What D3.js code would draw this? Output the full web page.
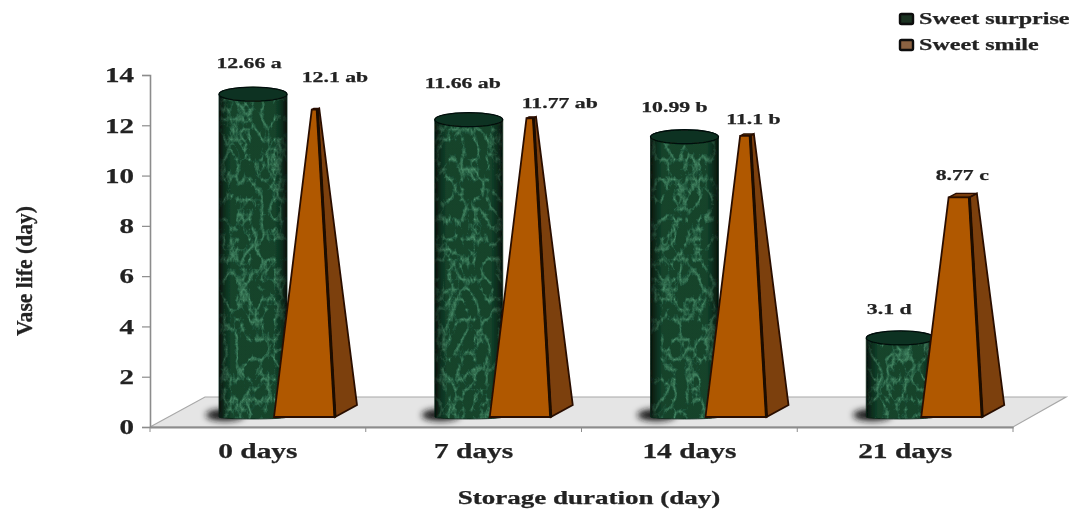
<!DOCTYPE html>
<html>
<head>
<meta charset="utf-8">
<script src="https://cdn.jsdelivr.net/npm/d3@7"></script>
<style>
  html, body { margin: 0; padding: 0; background: #fff; }
  text { font-family: "Liberation Serif", serif; font-weight: bold; fill: #222; stroke: #222; stroke-width: 0.25px; }
</style>
</head>
<body>
<div id="container"></div>
<script>
const categories = ["0 days", "7 days", "14 days", "21 days"];
const seriesNames = ["Sweet surprise", "Sweet smile"];
const surprise = [12.66, 11.66, 10.99, 3.1];
const smile = [12.1, 11.77, 11.1, 8.77];
const surpriseLabels = ["12.66 a", "11.66 ab", "10.99 b", "3.1 d"];
const smileLabels = ["12.1 ab", "11.77 ab", "11.1 b", "8.77 c"];
const yTicks = [0, 2, 4, 6, 8, 10, 12, 14];

const width = 1076, height = 512;
const svgRoot = d3.select("#container").append("svg")
  .attr("width", width).attr("height", height)
  .style("display", "block");
const defs = svgRoot.append("defs");

// the reference is a blurry bitmap, so everything goes through a slight blur
const soft = defs.append("filter").attr("id", "soft")
  .attr("filterUnits", "userSpaceOnUse")
  .attr("x", 0).attr("y", 0).attr("width", width).attr("height", height);
soft.append("feGaussianBlur").attr("stdDeviation", 0.45);
const svg = svgRoot.append("g").attr("filter", "url(#soft)");

// --- Scales ---
const x = d3.scaleBand().domain(categories).range([150, 1013]);
const y = d3.scaleLinear().domain([0, 14]).range([427, 75]);
// bars stand on the floor, a bit above the axis line
const yBar = d3.scaleLinear().domain([0, 14]).range([417, 60]);
// left edge of each series inside a band
const xSeries = d3.scalePoint().domain(seriesNames).range([69, 124]);

const cylW = 68, cylRy = 7;
const pyrW = 61, pyrDepth = 22, pyrRise = 12;
const pyrApex = 13.3;   // every pyramid tapers towards this height

// stretch text sideways, the picture was squeezed vertically
function widen(sel, factor) {
  sel.each(function () {
    const len = this.getComputedTextLength();
    d3.select(this)
      .attr("textLength", len * factor)
      .attr("lengthAdjust", "spacingAndGlyphs");
  });
}

// --- Marble texture: light veins laid over a flat dark green ---
const marble = defs.append("filter").attr("id", "marble")
  .attr("x", 0).attr("y", 0).attr("width", 1).attr("height", 1)
  .attr("color-interpolation-filters", "sRGB");
marble.append("feTurbulence").attr("type", "turbulence")
  .attr("baseFrequency", "0.08 0.05").attr("numOctaves", 5).attr("seed", 7);
marble.append("feColorMatrix").attr("type", "matrix")
  .attr("values", "0 0 0 0 0.36  0 0 0 0 0.66  0 0 0 0 0.5  0 0 0 -2.6 0.85");
marble.append("feGaussianBlur").attr("stdDeviation", 0.5);

const shade = defs.append("linearGradient").attr("id", "cylShade");
[[0, "#000", 0.8], [0.07, "#000", 0.4], [0.18, "#000", 0.05], [0.82, "#000", 0.05], [0.93, "#000", 0.4], [1, "#000", 0.8]]
  .forEach(s => shade.append("stop").attr("offset", s[0])
    .attr("stop-color", s[1]).attr("stop-opacity", s[2]));

const shadowBlur = defs.append("filter").attr("id", "shadow")
  .attr("x", "-50%").attr("y", "-100%").attr("width", "200%").attr("height", "300%");
shadowBlur.append("feGaussianBlur").attr("stdDeviation", 3);

// --- Floor ---
svg.append("path")
  .attr("d", d3.line()([[150, 427], [205, 397], [1066, 397], [1013, 427]]) + "Z")
  .attr("fill", "#e5e5e5").attr("stroke", "#a8a8a8").attr("stroke-width", 1.2);

// --- Axes ---
const yAxis = svg.append("g").attr("transform", "translate(150,0)")
  .call(d3.axisLeft(y).tickValues(yTicks).tickSize(8).tickPadding(8));
yAxis.selectAll("text").style("font-size", "21px");
widen(yAxis.selectAll("text"), 1.38);
yAxis.selectAll("line").attr("stroke", "#8c8c8c").attr("stroke-width", 1.2);
yAxis.select(".domain").attr("stroke", "#8c8c8c").attr("stroke-width", 1.6);

const xAxis = svg.append("g").attr("transform", "translate(0,427)")
  .call(d3.axisBottom(x).tickSize(0).tickPadding(16));
xAxis.selectAll("text").style("font-size", "21px");
widen(xAxis.selectAll("text"), 1.4);
xAxis.select(".domain").attr("stroke", "#8c8c8c").attr("stroke-width", 1.8);
xAxis.selectAll(".boundary").data(x.domain().map(d => x(d)).concat(x.range()[1])).join("line")
  .attr("x1", d => d).attr("x2", d => d).attr("y1", 0).attr("y2", 5)
  .attr("stroke", "#8c8c8c");

// --- Axis titles ---
svg.append("text")
  .attr("transform", "translate(32,271) rotate(-90)")
  .attr("text-anchor", "middle")
  .style("font-size", "23px")
  .attr("textLength", 130).attr("lengthAdjust", "spacingAndGlyphs")
  .text("Vase life (day)");
widen(svg.append("text")
  .attr("x", 589).attr("y", 504)
  .attr("text-anchor", "middle")
  .style("font-size", "18px")
  .text("Storage duration (day)"), 1.5);

// --- Cylinders ---
const cyl = svg.append("g").selectAll("g").data(categories).join("g");
cyl.each(function (cat, i) {
  const g = d3.select(this);
  const left = x(cat) + xSeries(seriesNames[0]);
  const right = left + cylW;
  const top = yBar(surprise[i]), bottom = yBar(0);
  const rx = cylW / 2;
  const outline = `M${left},${top}L${left},${bottom}A${rx},2 0 0 0 ${right},${bottom}L${right},${top}A${rx},${cylRy} 0 0 0 ${left},${top}Z`;

  g.append("ellipse")
    .attr("cx", left + 6).attr("cy", bottom - 2)
    .attr("rx", 19).attr("ry", 6)
    .attr("fill", "#141414").attr("filter", "url(#shadow)");

  const clipId = `cyl-clip-${i}`;
  defs.append("clipPath").attr("id", clipId).append("path").attr("d", outline);
  const body = g.append("g").attr("clip-path", `url(#${clipId})`);
  const bodyRect = () => body.append("rect")
    .attr("x", left).attr("y", top - cylRy)
    .attr("width", cylW).attr("height", bottom - top + 2 * cylRy);
  bodyRect().attr("fill", "#14472e");
  bodyRect().attr("filter", "url(#marble)");
  bodyRect().attr("fill", "url(#cylShade)");

  g.append("path").attr("d", outline).attr("fill", "none")
    .attr("stroke", "#0a2216").attr("stroke-width", 0.8);
  g.append("ellipse")
    .attr("cx", left + rx).attr("cy", top)
    .attr("rx", rx).attr("ry", cylRy)
    .attr("fill", "#0d3020").attr("stroke", "#04100a").attr("stroke-width", 1.3);
});

// --- Pyramids ---
const pyr = svg.append("g").selectAll("g").data(categories).join("g");
pyr.each(function (cat, i) {
  const g = d3.select(this);
  const fl = x(cat) + xSeries(seriesNames[1]);
  const fr = fl + pyrW;
  const br = fr + pyrDepth;
  const bottom = yBar(0);
  const top = yBar(smile[i]);
  const k = smile[i] / pyrApex;           // how far up towards the apex
  const cx = (fl + br) / 2;
  const lerp = (a, b) => a + (b - a) * k;
  const tl = lerp(fl, cx), tr = lerp(fr, cx), tb = lerp(br, cx);
  const rise = pyrRise * (1 - k);
  const stroke = "#2a1003";
  const frontY = top + rise;
  g.append("path")
    .attr("d", d3.line()([[tl, frontY], [tr, frontY], [tb, top], [tb - (tr - tl), top]]) + "Z")
    .attr("fill", "#7a3d0c").attr("stroke", stroke).attr("stroke-width", 1.4);
  g.append("path")
    .attr("d", d3.line()([[tr, frontY], [tb, top], [br, bottom - pyrRise], [fr, bottom]]) + "Z")
    .attr("fill", "#7c3f0b").attr("stroke", stroke).attr("stroke-width", 1.8);
  g.append("path")
    .attr("d", d3.line()([[tl, frontY], [tr, frontY], [fr, bottom], [fl, bottom]]) + "Z")
    .attr("fill", "#b05806").attr("stroke", stroke).attr("stroke-width", 1.8);
  g.append("line")
    .attr("x1", tr).attr("y1", frontY).attr("x2", fr).attr("y2", bottom)
    .attr("stroke", "#1c0a02").attr("stroke-width", 3);
});

// --- Value labels ---
const labelDy = [[-26, -26], [-32, -9], [-25, -10], [-24, -13]];
const labelDx = [[-4, 19], [-6, 28], [-10, 6], [-11, -1]];
const addLabels = (labels, values, si) => {
  const sel = svg.append("g").selectAll("text").data(labels).join("text")
    .attr("x", (d, i) => x(categories[i]) + xSeries(seriesNames[si]) + (si ? 42 : cylW / 2) + labelDx[i][si])
    .attr("y", (d, i) => yBar(values[i]) + labelDy[i][si])
    .attr("text-anchor", "middle")
    .style("font-size", "15px")
    .text(d => d);
  widen(sel, 1.45);
};
addLabels(surpriseLabels, surprise, 0);
addLabels(smileLabels, smile, 1);

// --- Legend ---
const legend = svg.append("g").selectAll("g").data(seriesNames).join("g")
  .attr("transform", (d, i) => `translate(900,${19 + i * 26})`);
legend.append("rect")
  .attr("x", 0).attr("y", -5).attr("width", 13).attr("height", 10).attr("rx", 1.5)
  .attr("fill", (d, i) => i ? "#8a6242" : "#1a3324")
  .attr("stroke", "#0a0a0a").attr("stroke-width", 2.4);
const legendText = legend.append("text")
  .attr("x", 19).attr("y", 5)
  .style("font-size", "16.5px")
  .text(d => d);
widen(legendText, 1.46);
</script>
</body>
</html>
